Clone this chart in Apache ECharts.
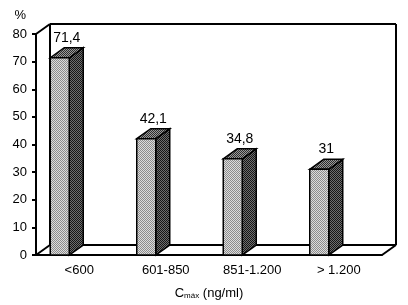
<!DOCTYPE html>
<html>
<head>
<meta charset="utf-8">
<script src="https://cdn.jsdelivr.net/npm/echarts@6/dist/echarts.min.js"></script>
<style>
    html, body { margin: 0; padding: 0; background: #fff; }
    #chart { width: 408px; height: 305px; }
</style>
</head>
<body>
<div id="chart"></div>
<script>
// Cmáx por faixa, % de pacientes
const categories = ['<600', '601-850', '851-1.200', '> 1.200'];
const values = [71.4, 42.1, 34.8, 31];
const yTicks = [0, 10, 20, 30, 40, 50, 60, 70, 80];

// profundidade 3D (px)
const DX = 14, DY = -10;

// textura pontilhada tipo impressao
function dots(base, dot) {
    const c = document.createElement('canvas');
    c.width = 2; c.height = 2;
    const g = c.getContext('2d');
    g.fillStyle = base; g.fillRect(0, 0, 2, 2);
    g.fillStyle = dot; g.fillRect(0, 0, 1, 1); g.fillRect(1, 1, 1, 1);
    return { image: c, repeat: 'repeat' };
}
const frontFill = dots('#dcdcdc', '#8c8c8c');
const sideFill = dots('#6e6e6e', '#161616');
const topFill = dots('#9a9a9a', '#2e2e2e');

const echart = echarts.init(document.getElementById('chart'));

const lineStyle = { stroke: '#000', lineWidth: 2, fill: null };

const option = {
    animation: false,
    textStyle: { fontFamily: 'Liberation Sans', color: '#000' },
    grid: { left: 36, right: 26, top: 34, bottom: 46 },
    xAxis: {
        type: 'category',
        data: categories,
        axisLine: { lineStyle: { color: '#000', width: 2 } },
        axisTick: { length: 5, lineStyle: { color: '#000', width: 2 } },
        axisLabel: { color: '#000', fontSize: 13, margin: 9 },
        name: '{c|C}{s|máx}{c| (ng/ml)}',
        nameLocation: 'middle',
        nameGap: 31,
        nameTextStyle: {
            rich: {
                c: { fontSize: 13, color: '#000', fontFamily: 'Liberation Sans' },
                s: { fontSize: 8, color: '#000', fontFamily: 'Liberation Sans', padding: [6, 0, 0, 0] }
            }
        }
    },
    yAxis: {
        type: 'value',
        min: yTicks[0],
        max: yTicks[yTicks.length - 1],
        interval: 10,
        name: '%',
        nameLocation: 'end',
        nameGap: 12,
        nameTextStyle: { fontSize: 13, color: '#000', align: 'right', padding: [0, 10, 0, 0] },
        axisLine: { show: true, lineStyle: { color: '#000', width: 2 } },
        axisTick: { show: true, length: 4, lineStyle: { color: '#000', width: 2 } },
        axisLabel: { color: '#000', fontSize: 13, margin: 9 },
        splitLine: { show: false }
    },
    series: [
        {
            // parede de fundo e piso
            type: 'custom',
            data: [[0, 0]],
            silent: true,
            z: 1,
            renderItem: function (params) {
                const cs = params.coordSys;
                const x0 = cs.x, y0 = cs.y, x1 = cs.x + cs.width, y1 = cs.y + cs.height;
                const seg = (a, b) => ({ type: 'line', shape: { x1: a[0], y1: a[1], x2: b[0], y2: b[1] }, style: lineStyle });
                return {
                    type: 'group',
                    children: [
                        seg([x0 + DX, y0 + DY], [x1 + DX, y0 + DY]),
                        seg([x0 + DX, y0 + DY], [x0 + DX, y1 + DY]),
                        seg([x1 + DX, y0 + DY], [x1 + DX, y1 + DY]),
                        seg([x0 + DX, y1 + DY], [x1 + DX, y1 + DY]),
                        seg([x0, y0], [x0 + DX, y0 + DY]),
                        seg([x0, y1], [x0 + DX, y1 + DY]),
                        seg([x1, y1], [x1 + DX, y1 + DY])
                    ]
                };
            }
        },
        {
            // barras 3D
            type: 'custom',
            data: values.map((v, i) => [i, v]),
            z: 2,
            renderItem: function (params, api) {
                const i = api.value(0), v = api.value(1);
                const top = api.coord([i, v]);
                const base = api.coord([i, 0]);
                const w = 19;
                const l = top[0] - 29, r = l + w;
                const t = top[1], b = base[1];
                const edge = { stroke: '#000', lineWidth: 1.5 };
                return {
                    type: 'group',
                    children: [
                        {
                            type: 'polygon',
                            shape: { points: [[r, t], [r + DX, t + DY], [r + DX, b + DY], [r, b]] },
                            style: Object.assign({ fill: sideFill }, edge)
                        },
                        {
                            type: 'polygon',
                            shape: { points: [[l, t], [l + DX, t + DY], [r + DX, t + DY], [r, t]] },
                            style: Object.assign({ fill: topFill }, edge)
                        },
                        {
                            type: 'rect',
                            shape: { x: l, y: t, width: w, height: b - t },
                            style: Object.assign({ fill: frontFill }, edge)
                        },
                        {
                            type: 'text',
                            x: l + (w + DX) / 2,
                            y: t - 20,
                            style: {
                                text: String(v).replace('.', ','),
                                fontSize: 14,
                                fontFamily: 'Liberation Sans',
                                fill: '#000',
                                align: 'center',
                                verticalAlign: 'middle'
                            }
                        }
                    ]
                };
            }
        }
    ]
};
echart.setOption(option);
</script>
</body>
</html>
